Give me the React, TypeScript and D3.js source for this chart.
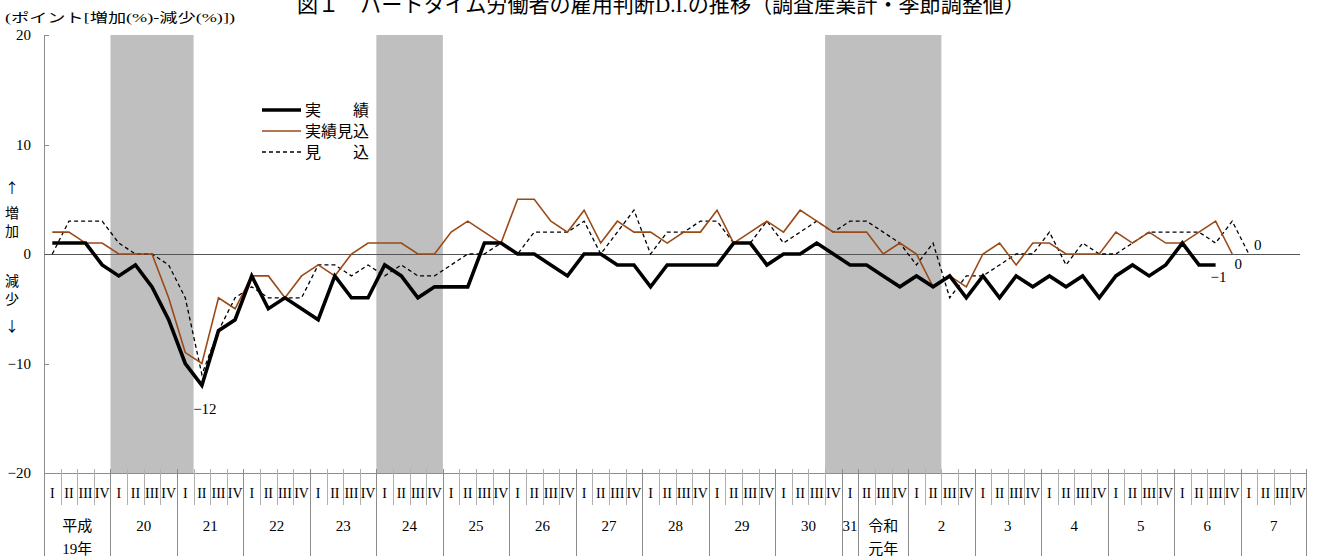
import React, { useEffect, useRef } from 'react';
import * as d3 from 'd3';

const width = 1319;
const height = 556;

// years along the axis (era keys, display label lines, quarters covered)
const yearKeys = ['H19', 'H20', 'H21', 'H22', 'H23', 'H24', 'H25', 'H26', 'H27', 'H28', 'H29', 'H30', 'H31', 'R1', 'R2', 'R3', 'R4', 'R5', 'R6', 'R7'];
const yearLabels = [
  ['平成', '19年'], ['20'], ['21'], ['22'], ['23'], ['24'], ['25'], ['26'], ['27'], ['28'],
  ['29'], ['30'], ['31'], ['令和', '元年'], ['2'], ['3'], ['4'], ['5'], ['6'], ['7'],
];
const fullYear = ['I', 'II', 'III', 'IV'];
const yearQuarters = yearKeys.map(k => (k === 'H31' ? ['I'] : k === 'R1' ? ['II', 'III', 'IV'] : fullYear));

// shaded periods (first and last quarter, inclusive)
const shadedPeriods = [
  ['H20-I', 'H21-I'],
  ['H24-I', 'H24-IV'],
  ['H30-IV', 'R2-II'],
];

// 実績
const actual = [
  1, 1, 1, -1, -2, -1, -3, -6, -10, -12, -7, -6, -2, -5, -4, -5, -6, -2, -4, -4,
  -1, -2, -4, -3, -3, -3, 1, 1, 0, 0, -1, -2, 0, 0, -1, -1, -3, -1, -1, -1,
  -1, 1, 1, -1, 0, 0, 1, 0, -1, -1, -2, -3, -2, -3, -2, -4, -2, -4, -2, -3,
  -2, -3, -2, -4, -2, -1, -2, -1, 1, -1, -1,
];
// 実績見込
const actualEstimate = [
  2, 2, 1, 1, 0, 0, 0, -4, -9, -10, -4, -5, -2, -2, -4, -2, -1, -2, 0, 1,
  1, 1, 0, 0, 2, 3, 2, 1, 5, 5, 3, 2, 4, 1, 3, 2, 2, 1, 2, 2,
  4, 1, 2, 3, 2, 4, 3, 2, 2, 2, 0, 1, 0, -3, -2, -3, 0, 1, -1, 1,
  1, 0, 0, 0, 2, 1, 2, 1, 1, 2, 3, 0,
];
// 見込
const forecast = [
  0, 3, 3, 3, 1, 0, 0, -1, -4, -11, -7, -4, -3, -4, -4, -4, -1, -1, -2, -1,
  -2, -1, -2, -2, -1, 0, 0, 1, 0, 2, 2, 2, 3, 0, 2, 4, 0, 2, 2, 3,
  3, 1, 1, 3, 1, 2, 3, 2, 3, 3, 2, 1, -1, 1, -4, -2, -2, -1, 0, 0,
  2, -1, 1, 0, 0, 1, 2, 2, 2, 2, 1, 3, 0,
];

const yTicks = [20, 10, 0, -10, -20];

const font = '"Liberation Serif", "Noto Sans CJK JP", serif';
const fontJp = '"Noto Sans CJK JP", sans-serif';

const App: React.FC = () => {
  const ref = useRef<SVGSVGElement>(null);

  useEffect(() => {
    if (!ref.current) return;
    const svg = d3.select(ref.current);
    svg.selectAll('*').remove();

    const quarterKeys: string[] = [];
    yearKeys.forEach((y, i) => yearQuarters[i].forEach(q => quarterKeys.push(`${y}-${q}`)));

    const x = d3.scaleBand<string>().domain(quarterKeys).range([44, 1307]).padding(0);
    const bw = x.bandwidth();
    const cx = (i: number) => (x(quarterKeys[i]) as number) + bw / 2;
    const y = d3.scaleLinear().domain([-20, 20]).range([473, 35]);

    const axisTop = y(20);
    const axisBottom = y(-20);

    // title (its top runs off the page, as in the source)
    svg
      .append('text')
      .attr('x', 661)
      .attr('y', 12)
      .attr('text-anchor', 'middle')
      .attr('font-family', font)
      .attr('font-size', 22)
      .attr('textLength', 728)
      .attr('lengthAdjust', 'spacingAndGlyphs')
      .text('図１　パートタイム労働者の雇用判断D.I.の推移（調査産業計・季節調整値）');

    svg
      .append('text')
      .attr('x', 5)
      .attr('y', 22)
      .attr('font-family', font)
      .attr('font-size', 13)
      .attr('textLength', 230)
      .attr('lengthAdjust', 'spacingAndGlyphs')
      .text('(ポイント[増加(%)-減少(%)])');

    // shaded periods
    svg
      .selectAll('rect.shade')
      .data(shadedPeriods)
      .enter()
      .append('rect')
      .attr('x', d => x(d[0]) as number)
      .attr('width', d => (x(d[1]) as number) + bw - (x(d[0]) as number))
      .attr('y', axisTop)
      .attr('height', axisBottom - axisTop)
      .attr('fill', '#bfbfbf');

    // y axis
    svg
      .append('line')
      .attr('x1', 44.5)
      .attr('x2', 44.5)
      .attr('y1', axisTop)
      .attr('y2', height)
      .attr('stroke', '#8c8c8c');
    yTicks.forEach(t => {
      svg
        .append('line')
        .attr('x1', 44.5)
        .attr('x2', 49)
        .attr('y1', Math.round(y(t)) + 0.5)
        .attr('y2', Math.round(y(t)) + 0.5)
        .attr('stroke', '#8c8c8c');
      svg
        .append('text')
        .attr('x', 31)
        .attr('y', y(t) + 5)
        .attr('text-anchor', 'end')
        .attr('font-family', font)
        .attr('font-size', 15)
        .text(t < 0 ? `−${-t}` : `${t}`);
    });

    // zero line
    svg
      .append('line')
      .attr('x1', 44.5)
      .attr('x2', 1300)
      .attr('y1', Math.round(y(0)) + 0.5)
      .attr('y2', Math.round(y(0)) + 0.5)
      .attr('stroke', '#555')
      .attr('stroke-width', 1);

    // 増加 / 減少 marks
    const sideMarks = [
      ['↑', 193], ['増', 218], ['加', 236], ['減', 286], ['少', 304], ['↓', 331],
    ] as [string, number][];
    sideMarks.forEach(([t, yy]) => {
      svg
        .append('text')
        .attr('x', 12)
        .attr('y', yy)
        .attr('text-anchor', 'middle')
        .attr('font-family', fontJp)
        .attr('font-size', 14)
        .text(t);
    });

    // bottom axis
    svg
      .append('line')
      .attr('x1', 44)
      .attr('x2', 1307)
      .attr('y1', Math.round(axisBottom) + 0.5)
      .attr('y2', Math.round(axisBottom) + 0.5)
      .attr('stroke', '#8c8c8c');

    const yearStart: number[] = [];
    let acc = 0;
    yearQuarters.forEach(q => {
      yearStart.push(acc);
      acc += q.length;
    });

    // quarter separators and labels
    quarterKeys.forEach((k, i) => {
      const bx = Math.round(x(k) as number) + 0.5;
      const isYear = yearStart.includes(i);
      if (i > 0) {
        svg
          .append('line')
          .attr('x1', bx)
          .attr('x2', bx)
          .attr('y1', axisBottom - 4)
          .attr('y2', isYear ? height : 505)
          .attr('stroke', isYear ? '#8c8c8c' : '#b0b0b0');
      }
      svg
        .append('text')
        .attr('x', cx(i))
        .attr('y', 498)
        .attr('text-anchor', 'middle')
        .attr('font-family', font)
        .attr('font-size', 14)
        .text(k.split('-')[1]);
    });
    svg
      .append('line')
      .attr('x1', 1306.5)
      .attr('x2', 1306.5)
      .attr('y1', axisBottom - 4)
      .attr('y2', height)
      .attr('stroke', '#8c8c8c');

    // year labels
    yearKeys.forEach((yk, i) => {
      const first = quarterKeys[yearStart[i]];
      const mid = (x(first) as number) + (bw * yearQuarters[i].length) / 2;
      yearLabels[i].forEach((line, j) => {
        svg
          .append('text')
          .attr('x', mid)
          .attr('y', 531 + j * 23)
          .attr('text-anchor', 'middle')
          .attr('font-family', font)
          .attr('font-size', 15)
          .text(line);
      });
    });

    // series
    const line = d3
      .line<number>()
      .x((_, i) => cx(i))
      .y(d => y(d));

    svg
      .append('path')
      .attr('d', line(forecast))
      .attr('fill', 'none')
      .attr('stroke', '#000')
      .attr('stroke-width', 1.3)
      .attr('stroke-dasharray', '4,3');
    svg
      .append('path')
      .attr('d', line(actualEstimate))
      .attr('fill', 'none')
      .attr('stroke', '#9a4a17')
      .attr('stroke-width', 1.6);
    svg
      .append('path')
      .attr('d', line(actual))
      .attr('fill', 'none')
      .attr('stroke', '#000')
      .attr('stroke-width', 3.6);

    // value labels
    const minIdx = d3.minIndex(actual);
    const lastA = actual.length - 1;
    const lastE = actualEstimate.length - 1;
    const lastF = forecast.length - 1;
    const valueLabels = [
      { text: `−${-actual[minIdx]}`, x: cx(minIdx) + 3, y: y(actual[minIdx]) + 29 },
      { text: `−${-actual[lastA]}`, x: cx(lastA) + 3, y: y(actual[lastA]) + 17 },
      { text: `${actualEstimate[lastE]}`, x: cx(lastE) + 6, y: y(actualEstimate[lastE]) + 15 },
      { text: `${forecast[lastF]}`, x: cx(lastF) + 9, y: y(forecast[lastF]) - 4 },
    ];
    valueLabels.forEach(l => {
      svg
        .append('text')
        .attr('x', l.x)
        .attr('y', l.y)
        .attr('text-anchor', 'middle')
        .attr('font-family', font)
        .attr('font-size', 15)
        .text(l.text);
    });

    // legend
    const legend = [
      { name: '実　　績', color: '#000', w: 3.6, dash: null },
      { name: '実績見込', color: '#9a4a17', w: 1.6, dash: null },
      { name: '見　　込', color: '#000', w: 1.3, dash: '4,3' },
    ];
    legend.forEach((l, i) => {
      const ly = 110 + i * 21;
      svg
        .append('line')
        .attr('x1', 262)
        .attr('x2', 301)
        .attr('y1', ly)
        .attr('y2', ly)
        .attr('stroke', l.color)
        .attr('stroke-width', l.w)
        .attr('stroke-dasharray', l.dash);
      svg
        .append('text')
        .attr('x', 305)
        .attr('y', ly + 6)
        .attr('font-family', font)
        .attr('font-size', 16)
        .text(l.name);
    });
  }, []);

  return (
    <div style={{ position: 'absolute', left: 0, top: 0 }}>
      <svg ref={ref} width={width} height={height} style={{ display: 'block', background: '#fff' }} />
    </div>
  );
};

export default App;
